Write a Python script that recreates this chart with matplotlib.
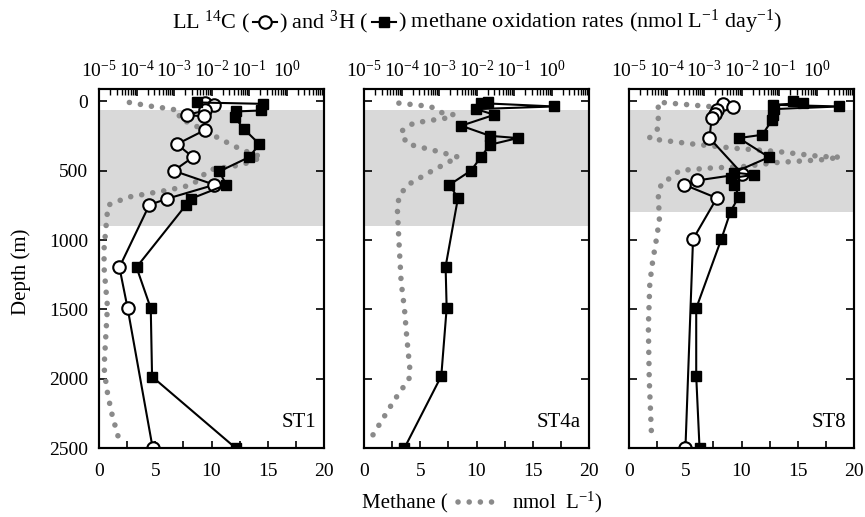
import numpy as np
import matplotlib
matplotlib.use('Agg')
import matplotlib.pyplot as plt
from matplotlib.lines import Line2D
from matplotlib.ticker import LogLocator, NullFormatter, MultipleLocator

# ---- data ----
# ST1
st1_c14_depth = [12, 24, 65, 97, 108, 204, 308, 402, 500, 601, 702, 746, 1196, 1492, 2500]
st1_c14_rate = [6.9e-3, 1.15e-2, 6.9e-3, 2.2e-3, 6.2e-3, 6.9e-3, 1.2e-3, 3.2e-3, 9.8e-4,
                1.2e-2, 6.5e-4, 2.2e-4, 3.5e-5, 5.8e-5, 2.7e-4]
st1_h3_depth = [7, 17, 65, 72, 115, 200, 308, 402, 505, 601, 702, 746, 1196, 1492, 1985, 2500]
st1_h3_rate = [4.0e-3, 0.23, 0.21, 0.044, 0.042, 0.074, 0.19, 0.10, 0.016, 0.025,
               2.8e-3, 2.1e-3, 1.0e-4, 2.4e-4, 2.6e-4, 0.044]
st1_ch4_depth = [7, 34, 55, 72, 120, 192, 272, 349, 402, 457, 493, 601, 637, 690, 748,
                 880, 1063, 1200, 1480, 1700, 1920, 2080, 2240, 2390, 2470]
st1_ch4_conc = [2.7, 4.6, 6.5, 7.2, 7.1, 9.0, 10.8, 12.7, 14.5, 12.7, 9.8, 8.3, 6.3, 2.6, 0.8,
                0.65, 0.45, 0.45, 0.75, 0.6, 0.45, 0.7, 1.1, 1.6, 1.9]

# ST4a (no 14C profile)
st4a_h3_depth = [7, 12, 36, 55, 96, 175, 248, 264, 312, 402, 498, 601, 697, 1191, 1492, 1981, 2500]
st4a_h3_rate = [0.020, 0.013, 1.17, 9.8e-3, 0.030, 3.9e-3, 0.023, 0.126, 0.023, 0.013,
                7.2e-3, 1.9e-3, 3.2e-3, 1.5e-3, 1.6e-3, 1.15e-3, 1.2e-4]
st4a_ch4_depth = [12, 36, 80, 96, 120, 132, 156, 216, 305, 361, 402, 433, 512, 601, 673, 751,
                  1000, 1300, 1500, 1700, 1925, 2002, 2154, 2471]
st4a_ch4_conc = [3.1, 5.9, 6.9, 8.0, 7.3, 6.3, 4.4, 3.3, 3.8, 6.6, 8.4, 7.6, 5.8, 3.9, 3.2, 2.95,
                 3.1, 3.3, 3.6, 3.8, 4.07, 4.0, 2.7, 0.3]

# ST8
st8_c14_depth = [17, 40, 60, 89, 120, 264, 522, 570, 601, 697, 993, 2500]
st8_c14_rate = [3.2e-3, 6.0e-3, 2.2e-3, 2.0e-3, 1.6e-3, 1.4e-3, 0.0105, 6.5e-4, 3.0e-4,
                2.2e-3, 5.1e-4, 3.2e-4]
st8_h3_depth = [0, 12, 24, 36, 55, 96, 132, 240, 264, 402, 513, 529, 553, 601, 686, 794,
                993, 1492, 1981, 2500]
st8_h3_rate = [0.23, 0.43, 0.071, 4.1, 0.074, 0.071, 0.066, 0.036, 8.5e-3, 0.054, 6.2e-3,
               0.022, 5.1e-3, 6.5e-3, 8.5e-3, 5.1e-3, 2.9e-3, 6.2e-4, 6.2e-4, 7.6e-4]
st8_ch4_depth = [36, 5, 55, 192, 264, 276, 305, 337, 361, 397, 402, 421, 440, 469, 481, 498,
                 553, 589, 666, 854, 1011, 1155, 1311, 1624, 2009, 2406]
st8_ch4_conc = [7.1, 2.6, 2.6, 2.6, 1.8, 2.6, 5.45, 9.3, 13.2, 17.05, 18.8, 17.05, 13.2, 10.2,
                7.1, 4.5, 3.66, 2.9, 2.6, 2.7, 2.4, 2.1, 1.85, 1.72, 1.8, 2.0]

stations = ['ST1', 'ST4a', 'ST8']
shade_top = [60, 60, 60]
shade_bottom = [900, 900, 795]
depth_ticks = [0, 500, 1000, 1500, 2000, 2500]
rate_ticks = [1e-5, 1e-4, 1e-3, 1e-2, 1e-1, 1e0, 1e1]
rate_labels = ['$10^{-5}$', '$10^{-4}$', '$10^{-3}$', '$10^{-2}$', '$10^{-1}$', '$10^{0}$', '']

c14 = [(st1_c14_depth, st1_c14_rate), None, (st8_c14_depth, st8_c14_rate)]
h3 = [(st1_h3_depth, st1_h3_rate), (st4a_h3_depth, st4a_h3_rate), (st8_h3_depth, st8_h3_rate)]
ch4 = [(st1_ch4_depth, st1_ch4_conc), (st4a_ch4_depth, st4a_ch4_conc), (st8_ch4_depth, st8_ch4_conc)]

plt.rcParams['font.family'] = ['Liberation Serif', 'DejaVu Serif']
plt.rcParams['mathtext.fontset'] = 'custom'
plt.rcParams['mathtext.rm'] = 'Liberation Serif'
plt.rcParams['mathtext.it'] = 'Liberation Serif:italic'

W, H = 865, 517
fig = plt.figure(figsize=(W / 100, H / 100), dpi=100)

dot_style = dict(color='#8a8a8a', lw=4.0, ls=(0, (0.01, 2.0)), dash_capstyle='round')
circ_style = dict(color='black', lw=1.5, marker='o', ms=9, mfc='white', mec='black', mew=1.5)
sq_style = dict(color='black', lw=1.5, marker='s', ms=7, mfc='black', mec='black')

lefts = [99, 364, 629]
for i, name in enumerate(stations):
    ax = fig.add_axes([lefts[i] / W, (H - 448) / H, 225 / W, (448 - 89) / H])
    ax.axhspan(shade_top[i], shade_bottom[i], color='#d9d9d9', lw=0, zorder=0)
    ax.plot(ch4[i][1], ch4[i][0], **dot_style)
    ax.set_xlim(0, 20)
    ax.set_ylim(2500, -90)
    ax.set_xticks([0, 5, 10, 15, 20])
    ax.xaxis.set_minor_locator(MultipleLocator(2.5))
    ax.set_yticks(depth_ticks)
    ax.tick_params(axis='x', which='both', direction='in', length=5, width=1.2,
                   labelsize=14, pad=11, top=False)
    ax.tick_params(axis='y', which='both', direction='in', length=6, width=1.2,
                   labelsize=14, pad=8, left=True, right=True)
    if i > 0:
        ax.set_yticklabels([])
    for s in ax.spines.values():
        s.set_linewidth(1.5)
    ax.text(0.965, 0.07, name, transform=ax.transAxes, ha='right', va='center', fontsize=15)

    ax2 = ax.twiny()
    ax2.set_xscale('log')
    ax2.set_xlim(1e-5, 1e1)
    if c14[i] is not None:
        ax2.plot(c14[i][1], c14[i][0], **circ_style)
    ax2.plot(h3[i][1], h3[i][0], **sq_style)
    ax2.set_xticks(rate_ticks)
    ax2.set_xticklabels(rate_labels)
    ax2.xaxis.set_minor_locator(LogLocator(base=10, subs=np.arange(2, 10), numticks=20))
    ax2.xaxis.set_minor_formatter(NullFormatter())
    ax2.tick_params(axis='x', which='major', direction='in', length=5, width=1.2,
                    labelsize=14, pad=6)
    ax2.tick_params(axis='x', which='minor', direction='in', length=4, width=1.0)
    ax2.set_xlim(1e-5, 1e1)
    for s in ax2.spines.values():
        s.set_linewidth(1.5)

fig.text(0.024, 0.474, 'Depth (m)', rotation=90, ha='center', va='center', fontsize=15)

renderer = fig.canvas.get_renderer()


def text_row(x, y, parts, fs):
    # lay text pieces and small legend glyphs side by side in figure coords
    for p in parts:
        if isinstance(p, str):
            t = fig.text(x, y, p, fontsize=fs, ha='left', va='baseline')
            x += t.get_window_extent(renderer).width / W
        else:
            kind, w = p
            ym = y + 6.5 / H
            if kind == 'dots':
                fig.add_artist(Line2D([x + 0.006, x + w - 0.006], [ym, ym],
                                      transform=fig.transFigure, **dot_style))
            else:
                style = circ_style if kind == 'o' else sq_style
                fig.add_artist(Line2D([x + 0.003, x + w / 2, x + w - 0.003], [ym] * 3,
                                      transform=fig.transFigure, markevery=[1], **style))
            x += w


text_row(172 / W, 1 - 28 / H,
         ['LL $^{14}$C (', ('o', 0.034), ') and $^{3}$H (', ('s', 0.034),
          ') methane oxidation rates (nmol L$^{-1}$ day$^{-1}$)'], 16)
text_row(362 / W, 1 - 508 / H,
         ['Methane ( ', ('dots', 0.062), ' nmol  L$^{-1}$)'], 15)

fig.savefig('out.png', dpi=100)
